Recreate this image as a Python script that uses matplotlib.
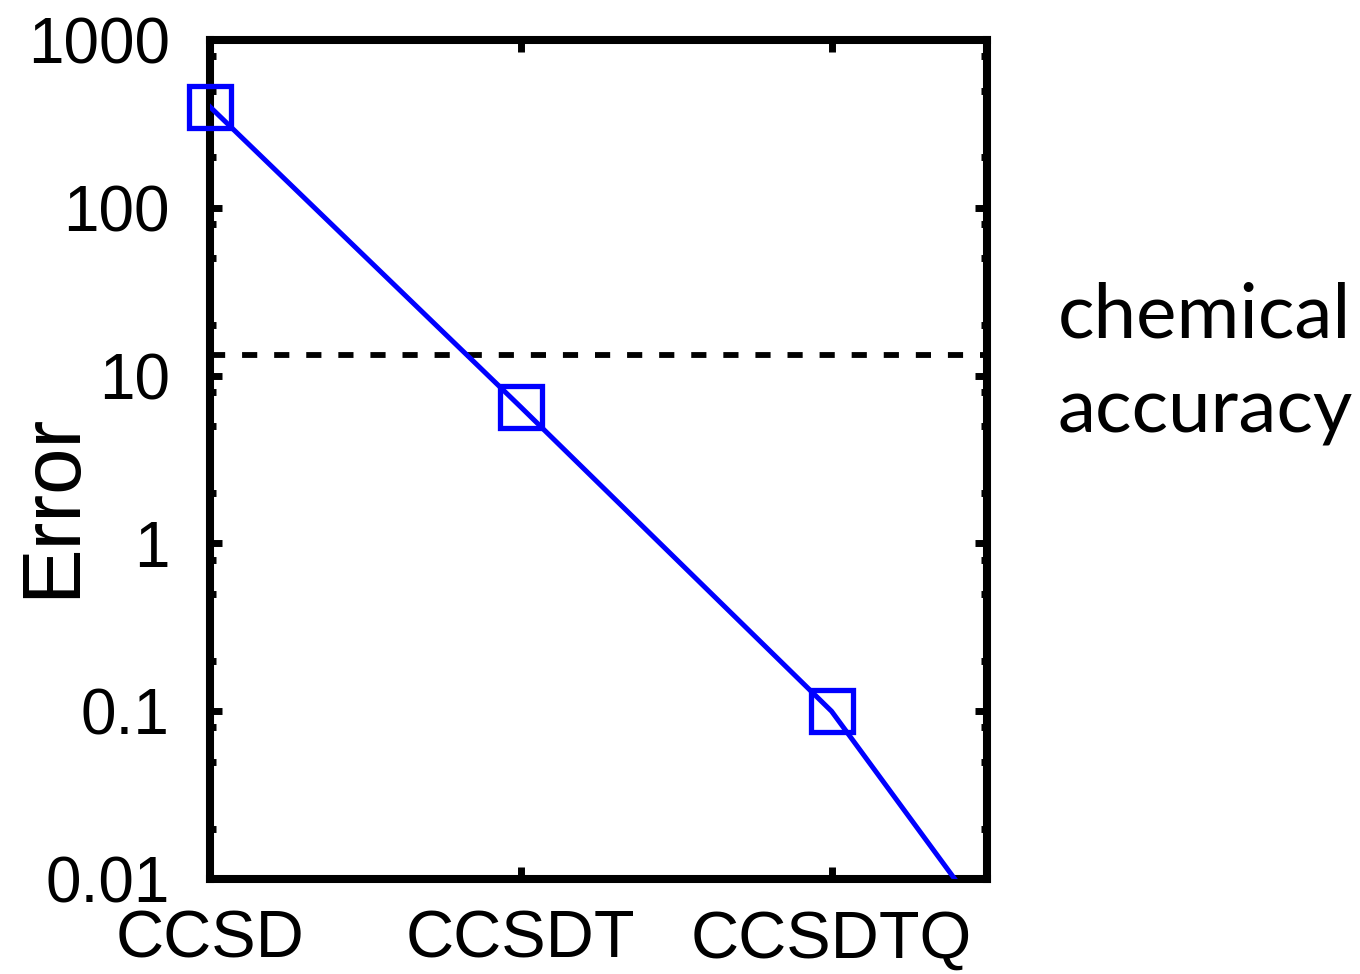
#!/usr/bin/env python3
# %% Coupled-cluster error vs. excitation level
import numpy as np
import matplotlib.pyplot as plt
from matplotlib.ticker import LogLocator, NullFormatter, FixedLocator

#- Data
methods = ['CCSD', 'CCSDT', 'CCSDTQ']
errors = [400, 6.5, 0.1]
next_error = 0.0003  # trend continued past CCSDTQ (clipped by the axes)
chemical_accuracy = 13.3
ytick_values = [0.01, 0.1, 1, 10, 100, 1000]
ytick_labels = ['0.01', '0.1', '1', '10', '100', '1000']

#- Plot parameters
fontsize = 46
linewidth = 3.6
spine_width = 5.8
blue = '#0000ff'

plt.rcParams['font.family'] = ['Liberation Sans', 'DejaVu Sans']

fig = plt.figure(figsize=(13.6, 9.74), dpi=100)
ax = fig.add_axes([0.1544, 0.0975, 0.7257 - 0.1544, 0.9589 - 0.0975])

x = np.arange(len(methods))
x_line = np.arange(len(methods) + 1)
ax.plot(x_line, errors + [next_error], color=blue, linewidth=linewidth,
        zorder=3)
ax.plot(x, errors, linestyle='none', marker='s', markersize=30,
        markerfacecolor='none', markeredgecolor=blue, markeredgewidth=3.8,
        clip_on=False, zorder=4)
ax.axhline(chemical_accuracy, color='black', linewidth=4.2,
           dashes=(2.6, 2.9), zorder=2)

ax.set_yscale('log')
ax.set_ylim(0.01, 1000)
ax.set_xlim(0, 2.5)

ax.yaxis.set_major_locator(FixedLocator(ytick_values))
ax.set_yticklabels(ytick_labels)
ax.yaxis.set_minor_locator(LogLocator(base=10, subs=[2, 5, 8]))
ax.yaxis.set_minor_formatter(NullFormatter())
ax.set_xticks(x)
ax.set_xticklabels(methods)

for spine in ax.spines.values():
    spine.set_linewidth(spine_width)
ax.tick_params(axis='both', which='major', direction='in', length=8.5,
               width=5, labelsize=fontsize, top=True, right=True)
ax.tick_params(axis='both', which='minor', direction='in', length=4.5,
               width=5, right=True)
ax.tick_params(axis='y', which='major', pad=29)
ax.tick_params(axis='x', which='major', pad=22, labelsize=48)

fig.text(52/1360, 1 - 505/974, 'Error', rotation=90, fontsize=60,
         ha='center', va='center')
fig.text(1058/1360, 1 - 338/974, 'chemical', fontsize=55,
         family=['Lato', 'DejaVu Sans'], ha='left', va='baseline')
fig.text(1058/1360, 1 - 433/974, 'accuracy', fontsize=55,
         family=['Lato', 'DejaVu Sans'], ha='left', va='baseline')

plt.savefig('out.png', dpi=100)
